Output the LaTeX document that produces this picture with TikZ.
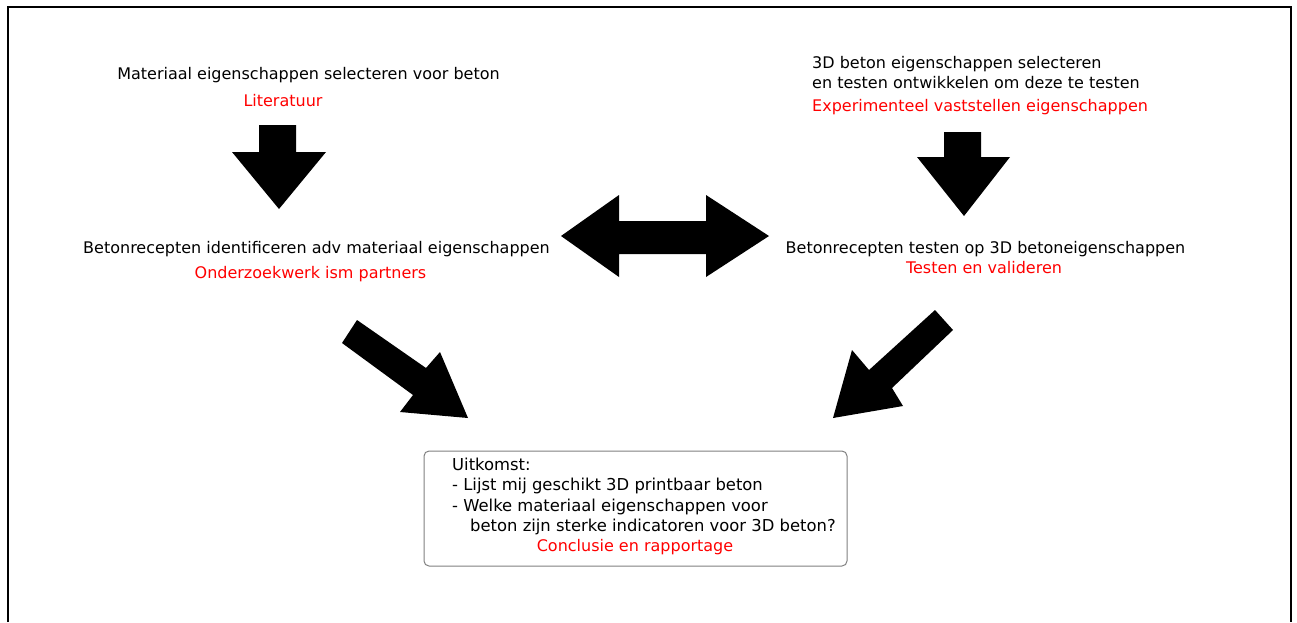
\documentclass[tikz,border=0pt]{standalone}
\usepackage{fontspec}
\setmainfont{DejaVu Sans}
\begin{document}
\begin{tikzpicture}[x=1pt, y=-1pt,
	tekst/.style={inner sep=0pt, anchor=base, font=\fontsize{16}{21}\selectfont},
	rood/.style={tekst, red},
	boxtekst/.style={tekst, anchor=base west, font=\fontsize{16.4}{21}\selectfont},
	blokpijl/.style={fill=black},
	kader/.style={draw=black!50, line width=1pt, rounded corners=5pt}]

	\useasboundingbox (0,0) rectangle (1297,622);
	\draw [line width=2.5pt] (8,622) -- (8,7) -- (1291,7) -- (1291,622);

	% linker kolom
	\node[tekst] (mat) at (308.5, 79) {Materiaal eigenschappen selecteren voor beton};
	\node[rood] (lit) at (283, 106) {Literatuur};
	\node[tekst] (recL) at (316.5, 253) {Betonrecepten identificeren adv materiaal eigenschappen};
	\node[rood] (onderzoek) at (310.5, 278) {Onderzoekwerk ism partners};

	% rechter kolom
	\node[tekst, anchor=base west] (beton3d) at (812, 68) {3D beton eigenschappen selecteren};
	\node[tekst, anchor=base west] (ontw) at (812, 88) {en testen ontwikkelen om deze te testen};
	\node[rood, anchor=base west] (exp) at (812, 111) {Experimenteel vaststellen eigenschappen};
	\node[tekst] (recR) at (985.5, 253) {Betonrecepten testen op 3D betoneigenschappen};
	\node[rood] (testen) at (984, 273) {Testen en valideren};

	% uitkomst
	\node[kader, minimum width=423pt, minimum height=115pt] (uitkomst) at (635.5, 508.5) {};
	\node[boxtekst] (u1) at (452, 470) {Uitkomst:};
	\node[boxtekst] (u2) at (452, 490) {- Lijst mij geschikt 3D printbaar beton};
	\node[boxtekst] (u3) at (452, 511) {- Welke materiaal eigenschappen voor};
	\node[boxtekst] (u4) at (470, 531) {beton zijn sterke indicatoren voor 3D beton?};
	\node[rood] (concl) at (635, 551) {Conclusie en rapportage};

	% pijlen
	\fill[blokpijl] (259,125) -- (296,125) -- (296,152) -- (326,152) -- (279,209)
		-- (232,152) -- (259,152) -- cycle;
	\fill[blokpijl] (944,132) -- (981,132) -- (981,157) -- (1010,157) -- (964,216)
		-- (917,157) -- (944,157) -- cycle;
	\fill[blokpijl] (561,236) -- (619,195) -- (619,221) -- (706,221) -- (706,195)
		-- (769,236) -- (706,277) -- (706,254) -- (619,254) -- (619,277) -- cycle;
	\fill[blokpijl] (357,320) -- (426,368) -- (440,352) -- (468,418) -- (400,412)
		-- (413,395) -- (342,343) -- cycle;
	\fill[blokpijl] (935,310) -- (953,330) -- (892,388) -- (903,406) -- (833,418)
		-- (852,350) -- (869,370) -- cycle;

\end{tikzpicture}
\end{document}
